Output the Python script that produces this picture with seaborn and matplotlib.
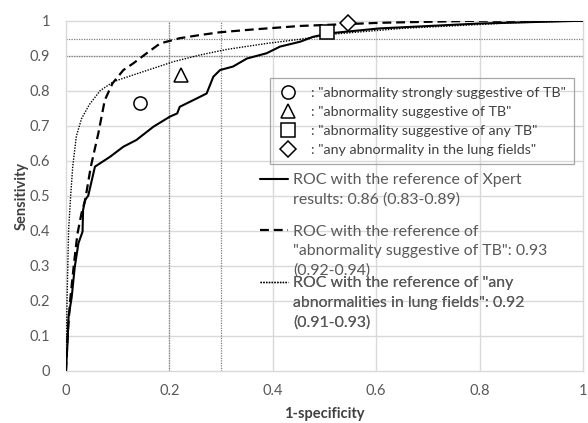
import matplotlib
matplotlib.use('Agg')
import matplotlib.pyplot as plt
import seaborn as sns
import pandas as pd
from matplotlib.lines import Line2D

# ROC curve points
fpr_xpert = [0, 0.003, 0.005, 0.011, 0.017, 0.024, 0.032, 0.033, 0.037, 0.043, 0.056, 0.085, 0.111,
             0.136, 0.169, 0.201, 0.215, 0.22, 0.253, 0.272, 0.285, 0.298, 0.323, 0.35, 0.388, 0.414,
             0.453, 0.478, 0.51, 0.607, 0.80, 1.0]
tpr_xpert = [0, 0.08, 0.155, 0.21, 0.297, 0.364, 0.397, 0.459, 0.488, 0.50, 0.583, 0.611, 0.64,
             0.659, 0.697, 0.726, 0.735, 0.754, 0.778, 0.792, 0.84, 0.859, 0.869, 0.892, 0.907, 0.926,
             0.94, 0.954, 0.964, 0.978, 0.992, 1.0]

fpr_tb = [0, 0.003, 0.008, 0.015, 0.022, 0.03, 0.037, 0.048, 0.0625, 0.075, 0.09, 0.111, 0.13, 0.156,
          0.182, 0.22, 0.259, 0.298, 0.362, 0.453, 0.607, 0.8, 1.0]
tpr_tb = [0, 0.1, 0.2, 0.3, 0.39, 0.45, 0.487, 0.583, 0.678, 0.773, 0.821, 0.859, 0.878, 0.907,
          0.935, 0.95, 0.959, 0.967, 0.975, 0.985, 0.994, 1.0, 1.0]

fpr_any = [0, 0.002, 0.005, 0.009, 0.013, 0.02, 0.03, 0.045, 0.066, 0.092, 0.13, 0.169, 0.208, 0.259,
           0.311, 0.388, 0.453, 0.52, 0.65, 0.865, 1.0]
tpr_any = [0, 0.2, 0.4, 0.5, 0.583, 0.67, 0.72, 0.76, 0.80, 0.826, 0.845, 0.864, 0.883, 0.902,
           0.918, 0.935, 0.947, 0.962, 0.978, 0.994, 1.0]

# single operating points
pt_labels = [': "abnormality strongly suggestive of TB"',
             ': "abnormality suggestive of TB"',
             ': "abnormality suggestive of any TB"',
             ': "any abnormality in the lung fields"']
pt_x = [0.143, 0.222, 0.504, 0.546]
pt_y = [0.764, 0.845, 0.969, 0.993]
pt_markers = ['o', '^', 's', 'D']
pt_sizes = [9.5, 10, 9.5, 8]

ref_x = [0.2, 0.3]
ref_y = [0.9, 0.947]

line_labels = [['ROC with the reference of Xpert', 'results: 0.86 (0.83-0.89)'],
               ['ROC with the reference of', '"abnormality suggestive of TB": 0.93', '(0.92-0.94)'],
               ['ROC with the reference of "any', 'abnormalities in lung fields": 0.92', '(0.91-0.93)']]

sns.set_style('white')
plt.rcParams['font.family'] = ['Lato', 'DejaVu Sans']

fig = plt.figure(figsize=(5.88, 4.23), dpi=100)
ax = fig.add_axes([66 / 588, 52.3 / 423, 517 / 588, 350 / 423])

grid_c = '#d9d9d9'
for v in [0.2, 0.4, 0.6, 0.8]:
    ax.axvline(v, color=grid_c, lw=1, zorder=0)
for v in [0.1 * i for i in range(1, 10)]:
    ax.axhline(v, color=grid_c, lw=1, zorder=0)
for s in ax.spines.values():
    s.set_color(grid_c)
    s.set_linewidth(1)

for v in ref_x:
    ax.axvline(v, color='#7f7f7f', lw=0.9, ls=(0, (1, 1)), zorder=1)
for v in ref_y:
    ax.axhline(v, color='#7f7f7f', lw=0.9, ls=(0, (1, 1)), zorder=1)

styles = ['-', (0, (4, 2.2)), (0, (1, 1))]
widths = [1.5, 1.6, 1.0]
curves = [(fpr_xpert, tpr_xpert), (fpr_tb, tpr_tb), (fpr_any, tpr_any)]
for (fx, ty), ls, lw in zip(curves, styles, widths):
    df = pd.DataFrame({'fpr': fx, 'tpr': ty})
    sns.lineplot(data=df, x='fpr', y='tpr', ax=ax, color='black', lw=lw,
                 linestyle=ls, estimator=None, sort=False, zorder=3)

for x, y, m, ms in zip(pt_x, pt_y, pt_markers, pt_sizes):
    ax.plot([x], [y], marker=m, ms=ms, mfc='white', mec='black', mew=1.1,
            ls='none', zorder=5, clip_on=False)

ax.set_xlim(0, 1)
ax.set_ylim(0, 1)
ax.set_xticks([0, 0.2, 0.4, 0.6, 0.8, 1])
ax.set_xticklabels(['0', '0.2', '0.4', '0.6', '0.8', '1'])
ax.set_yticks([0.1 * i for i in range(11)])
ax.set_yticklabels(['0'] + ['%.1f' % (0.1 * i) for i in range(1, 10)] + ['1'])
ax.tick_params(axis='both', length=0, labelsize=10.5, labelcolor='#595959')
ax.tick_params(axis='x', pad=9.8)
ax.tick_params(axis='y', pad=11.3)
ax.set_xlabel('1-specificity', fontsize=10.5, fontweight='bold', color='#404040', labelpad=6)
ax.set_ylabel('Sensitivity', fontsize=10.5, fontweight='bold', color='#404040', labelpad=1)

# marker legend (boxed)
mk_handles = [Line2D([], [], marker=m, ms=ms, mfc='white', mec='black', mew=1.1, ls='none')
              for m, ms in zip(pt_markers, pt_sizes)]
fs1 = 10.3
leg1 = ax.legend(mk_handles, pt_labels, loc='upper left', bbox_to_anchor=(270 / 588, 1 - 78.3 / 423),
                 bbox_transform=fig.transFigure, borderaxespad=0, fontsize=fs1, frameon=True,
                 fancybox=False, edgecolor='#a6a6a6', facecolor='none', framealpha=1,
                 handlelength=1.4, handletextpad=0.88, borderpad=0.58, labelspacing=0.5,
                 labelcolor='#404040')
leg1.get_frame().set_linewidth(0.9)
ax.add_artist(leg1)

# line legends, one per curve
fs2 = 11.4
tops = [180, 231.7, 283.3]
for lab, ls, lw, top in zip(line_labels, styles, widths, tops):
    hs = [Line2D([], [], color='black', ls=ls, lw=lw)] + [Line2D([], [], ls='none')] * (len(lab) - 1)
    lg = ax.legend(hs, lab, loc='upper left', bbox_to_anchor=(260 / 588, 1 - (top - 7.0) / 423),
                   bbox_transform=fig.transFigure, borderaxespad=0, borderpad=0, fontsize=fs2,
                   frameon=False, handlelength=1.77, handletextpad=0.3, labelspacing=0.33,
                   labelcolor='#595959')
    ax.add_artist(lg)

fig.savefig('out.png', dpi=100)
